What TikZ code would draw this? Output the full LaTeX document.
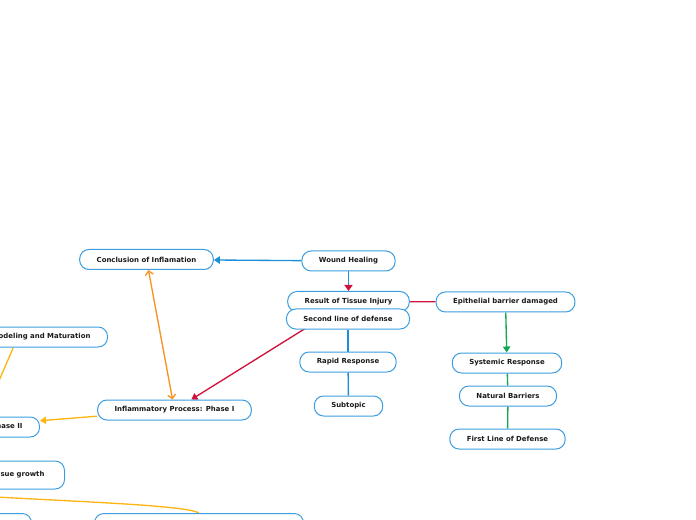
\documentclass[tikz,border=0pt]{standalone}
\usepackage{fontspec}
\setmainfont{DejaVu Sans}
\usepackage{xcolor}
\usepackage{tikz}
\usetikzlibrary{arrows.meta,backgrounds}
\definecolor{cframe}{HTML}{3C9EE0}
\definecolor{cline}{HTML}{1B8FDA}
\definecolor{cred}{HTML}{D0113C}
\definecolor{cgreen}{HTML}{12A650}
\definecolor{corange}{HTML}{F7931E}
\definecolor{cyellow}{HTML}{FDB515}
\definecolor{cink}{HTML}{1A1A1A}
\tikzset{>={Triangle[length=4.5pt,width=5.5pt]},
  topic/.style={draw=cframe,line width=0.75pt,rounded corners=7pt,fill=white,minimum height=15pt,
    inner xsep=12.75pt,inner ysep=0pt,text=cink,font=\fontsize{5.2}{6}\selectfont\bfseries},
  lnk/.style={line width=1pt},
  barb/.style={{Straight Barb[length=3pt,width=6pt]}-{Straight Barb[length=3pt,width=6pt]}}}

\begin{document}
\begin{tikzpicture}[x=0.75pt,y=-0.75pt]
\useasboundingbox (0,0) rectangle (696,520);
\clip (0,0) rectangle (696,520);

% ================= centre column =================
\node[topic] (wound) at (348.5,261) {Wound Healing};
\node[topic] (concl) at (146.5,259.5) {Conclusion of Inflamation};
\node[topic] (result) at (348.5,301.5) {Result of Tissue Injury};
\node[topic] (second) at (348,319) {Second line of defense};
\node[topic] (rapid) at (348,362) {Rapid Response};
\node[topic] (subt) at (348.5,406) {Subtopic};

% ================= right column =================
\node[topic] (epith) at (505.5,302) {Epithelial barrier damaged};
\node[topic] (syst) at (507,363) {Systemic Response};
\node[topic] (natural) at (508,396) {Natural Barriers};
\node[topic] (first) at (507.5,439) {First Line of Defense};

% ================= left side (runs off the page) =================
\node[topic] (phase1) at (174.5,410) {Inflammatory Process: Phase I};
\node[topic,anchor=east] (phase2) at (40,427) {Inflammatory Process: Phase II};
\node[topic,anchor=east] (remod) at (108,337) {Remodeling and Maturation};
\node[topic,anchor=east,minimum height=21pt,inner xsep=15pt] (growth) at (65,475) {New tissue growth};
\node[topic,anchor=north east,minimum width=60pt] (botl) at (32,513) {};
\node[topic,anchor=north west,minimum width=156.75pt] (botr) at (94,513) {};
\coordinate (rmend) at (-8,397);
\coordinate (crvend) at (-40,495);

% ================= connectors =================
\begin{scope}[on background layer]
\draw[lnk,cline,->] (wound) -- (concl);
\draw[lnk,cline,-{Triangle[length=4.5pt,width=6pt,color=cred]}] (wound) -- (result);
\draw[lnk,cred] (result) -- (epith);
\draw[lnk,cred,->] (result) -- (phase1);
\draw[lnk,cline] (second) -- (rapid);
\draw[lnk,cline] (rapid) -- (subt);
\draw[lnk,cgreen,->] (epith) -- (syst);
\draw[lnk,cgreen] (syst) -- (natural);
\draw[lnk,cgreen] (natural) -- (first);
\draw[lnk,corange,barb] (concl) -- (phase1);
\draw[lnk,cyellow,->] (phase1) -- (phase2);
\draw[lnk,cyellow] ([xshift=-17pt]remod.south) -- (rmend);
\draw[lnk,cyellow] (crvend) .. controls (80,502) and (185,505) .. (botr.north);
\end{scope}

\end{tikzpicture}
\end{document}
